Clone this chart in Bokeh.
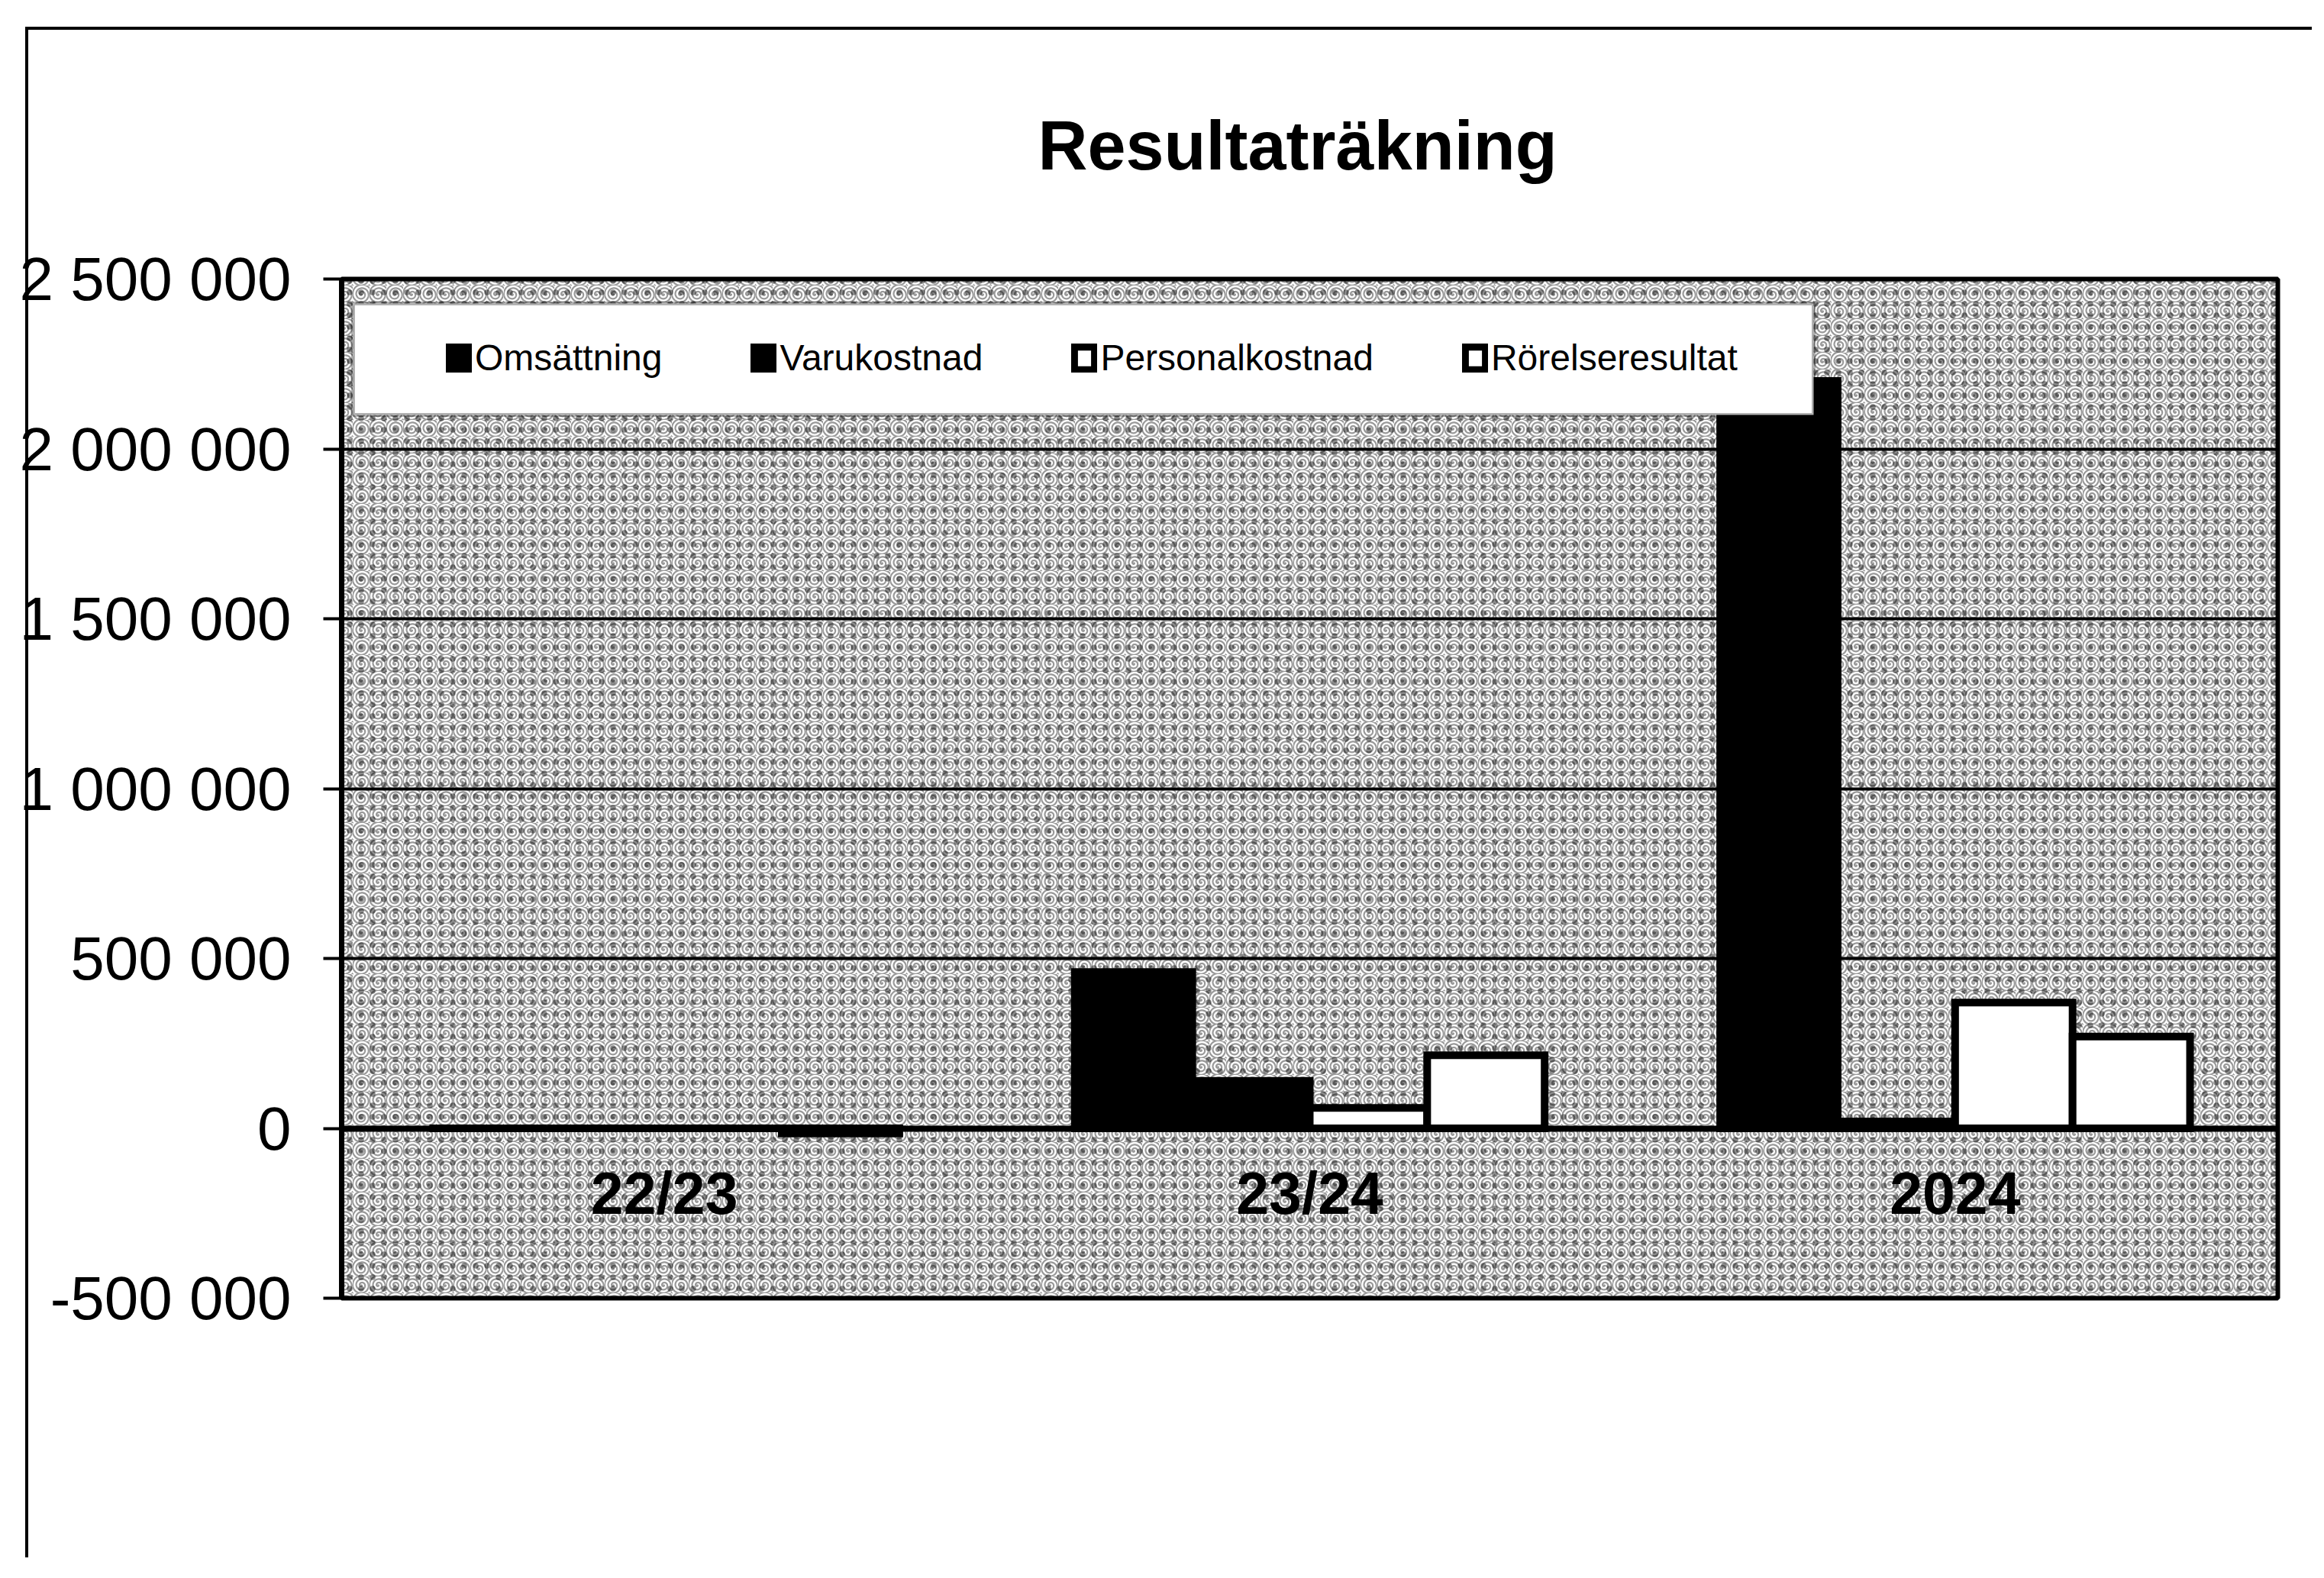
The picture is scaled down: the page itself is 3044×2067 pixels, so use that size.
from bokeh.plotting import figure
from bokeh.models import (FactorRange, Range1d, FixedTicker, Legend, LegendItem,
                          BoxAnnotation, ColumnDataSource)
from bokeh.transform import dodge
from bokeh.embed import file_html
from bokeh.resources import INLINE

# ---------------- data ----------------
years = ["22/23", "23/24", "2024"]
series_names = ["Omsättning", "Varukostnad", "Personalkostnad", "Rörelseresultat"]
omsattning = [0, 460000, 2200000]
varukostnad = [0, 140000, 20000]
personalkostnad = [0, 60000, 370000]
rorelseresultat = [-15000, 215000, 270000]
y_tick_values = [-500000, 0, 500000, 1000000, 1500000, 2000000, 2500000]
y_tick_labels = ["-500 000", "0", "500 000", "1 000 000", "1 500 000", "2 000 000", "2 500 000"]
title_text = "Resultaträkning"

FONT = "Liberation Sans"

src = ColumnDataSource(dict(year=years, oms=omsattning, varu=varukostnad,
                            pers=personalkostnad, ror=rorelseresultat))

p = figure(x_range=FactorRange(*years), y_range=Range1d(-500000, 2500000),
           frame_width=2536, frame_height=1335,
           min_border_left=447, min_border_top=365, min_border_right=45, min_border_bottom=340,
           output_backend="svg", toolbar_location=None, title=title_text)

# outer chart frame (left and top edges) drawn behind a transparent canvas border
p.styles = {
    "background-color": "white",
    "background-image": "linear-gradient(black, black), linear-gradient(black, black)",
    "background-size": "4px 100%, 100% 4px",
    "background-position": "33px 35px, 33px 35px",
    "background-repeat": "no-repeat",
}

p.background_fill_color = "white"
p.border_fill_alpha = 0
p.outline_line_color = "black"
p.outline_line_width = 6

# speckled background texture
tex1 = BoxAnnotation(fill_alpha=0, line_alpha=0, hatch_pattern="spiral", hatch_scale=22,
                     hatch_weight=2.2, hatch_color="black", hatch_alpha=0.4, level="underlay")
tex2 = BoxAnnotation(fill_alpha=0, line_alpha=0, hatch_pattern="dot", hatch_scale=15,
                     hatch_weight=3.5, hatch_color="black", hatch_alpha=0.45, level="underlay")
p.center = [tex1, tex2] + list(p.center)

# bars
bar_w = 0.182
cols = ["oms", "varu", "pers", "ror"]
fills = ["black", "black", "white", "white"]
offsets = [-1.5, -0.5, 0.5, 1.5]
renderers = []
for col, fill, off in zip(cols, fills, offsets):
    r = p.vbar(x=dodge("year", off * bar_w, range=p.x_range), top=col, bottom=0,
               width=bar_w, source=src, fill_color=fill, line_color="black",
               line_width=10, line_join="miter")
    renderers.append(r)

# axes
p.yaxis.ticker = FixedTicker(ticks=y_tick_values)
p.yaxis.major_label_overrides = {v: l for v, l in zip(y_tick_values, y_tick_labels)}
p.yaxis.major_label_text_font = FONT
p.yaxis.major_label_text_font_size = "80px"
p.yaxis.major_label_text_color = "black"
p.yaxis.axis_line_width = 7
p.yaxis.axis_line_color = "black"
p.yaxis.major_tick_line_width = 4
p.yaxis.major_tick_out = 24
p.yaxis.major_tick_in = 0
p.yaxis.minor_tick_line_color = None
p.yaxis.major_label_standoff = 42

p.xaxis.fixed_location = 0
p.xaxis.axis_line_width = 8
p.xaxis.axis_line_color = "black"
p.xaxis.major_tick_line_color = None
p.xaxis.minor_tick_line_color = None
p.xaxis.major_label_text_font = FONT
p.xaxis.major_label_text_font_size = "77px"
p.xaxis.major_label_text_font_style = "bold"
p.xaxis.major_label_text_color = "black"
p.xaxis.major_label_standoff = 36

p.ygrid.ticker = FixedTicker(ticks=y_tick_values)
p.ygrid.grid_line_color = "black"
p.ygrid.grid_line_width = 4
p.xgrid.visible = False

# title
p.title.text_font = FONT
p.title.text_font_size = "90px"
p.title.text_font_style = "bold"
p.title.text_color = "black"
p.title.align = "left"
p.title.standoff = 249
p.title.offset = 912

# legend box + legend
legend_box = BoxAnnotation(left=15, right=1928, bottom=1157, top=1303,
                           left_units="screen", right_units="screen",
                           top_units="screen", bottom_units="screen",
                           fill_color="white", fill_alpha=1, line_color="black",
                           line_width=5, level="annotation")
p.add_layout(legend_box)

legend = Legend(items=[LegendItem(label=n, renderers=[r]) for n, r in zip(series_names, renderers)],
                orientation="horizontal", location=(137, 1204), padding=0, margin=0,
                spacing=116, glyph_width=34, glyph_height=38, label_standoff=4,
                label_text_font=FONT, label_text_font_size="48px", label_text_color="black",
                border_line_alpha=0, background_fill_alpha=0)
p.add_layout(legend)

open("out.html", "w").write(file_html(p, INLINE))
